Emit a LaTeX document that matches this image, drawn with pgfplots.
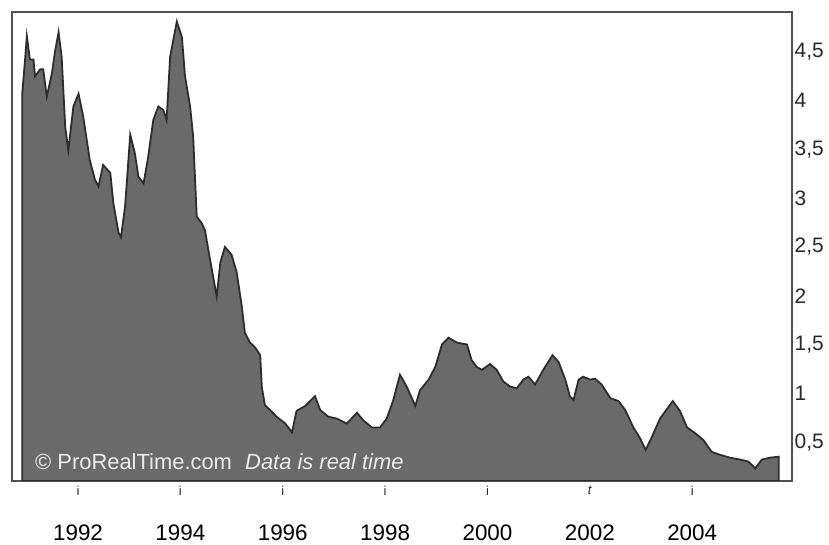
\documentclass[border=0pt]{standalone}
\usepackage{pgfplots}
\pgfplotsset{compat=1.18}
\usepackage{fontspec}
\setmainfont{Liberation Sans}
\definecolor{areafill}{RGB}{106,106,106}
\definecolor{areaedge}{RGB}{45,45,45}
\definecolor{framec}{RGB}{80,80,80}
\definecolor{labc}{RGB}{40,40,40}
\begin{document}
\begin{tikzpicture}[x=1bp,y=1bp]
\path[use as bounding box] (0,0) rectangle (829,545);
\begin{axis}[
  at={(12bp,64bp)}, anchor=south west,
  width=780bp, height=469bp, scale only axis,
  xmin=1990.71, xmax=2005.95, ymin=0.101, ymax=4.908,
  axis line style={draw=framec, line width=1.8bp},
  major tick length=0pt,
  ytick={0.5,1,1.5,2,2.5,3,3.5,4,4.5},
  yticklabel pos=right,
  yticklabel style={font=\fontsize{21}{25}\selectfont, text=labc, anchor=west, inner sep=0pt, xshift=2.5bp,
    /pgf/number format/.cd, use comma, assume math mode=true},
  xtick={1992,1994,1996,1998,2000,2002,2004},
  xticklabels={1992,1994,1996,1998,2000,2002,2004},
  xticklabel style={font=\fontsize{22.5}{27}\selectfont, text=black, anchor=north, inner sep=0pt},
  xticklabel shift=44bp,
  extra x ticks={1992,1994,1996,1998,2000,2002,2004},
  extra x tick labels={i,i,i,i,i,\textit{t},i},
  extra x tick style={xticklabel shift=5bp, xticklabel style={font=\fontsize{13}{15}\selectfont, text=labc}},
  clip=true,
]
\addplot[fill=areafill, draw=areaedge, line width=1.8bp, sharp plot] table {
x y
1990.91 4.07
1990.97 4.45
1991.00 4.66
1991.06 4.42
1991.13 4.42
1991.16 4.25
1991.26 4.32
1991.32 4.32
1991.39 4.04
1991.49 4.28
1991.55 4.50
1991.62 4.70
1991.68 4.45
1991.75 3.73
1991.81 3.49
1991.91 3.94
1992.01 4.07
1992.10 3.84
1992.23 3.39
1992.33 3.19
1992.40 3.12
1992.49 3.34
1992.63 3.26
1992.69 2.95
1992.79 2.65
1992.84 2.60
1992.92 2.92
1993.02 3.65
1993.11 3.46
1993.18 3.22
1993.28 3.15
1993.37 3.42
1993.47 3.80
1993.57 3.94
1993.67 3.90
1993.73 3.80
1993.80 4.45
1993.93 4.81
1994.03 4.65
1994.09 4.25
1994.19 3.94
1994.25 3.63
1994.29 3.15
1994.32 2.81
1994.42 2.74
1994.48 2.67
1994.58 2.37
1994.71 1.99
1994.78 2.34
1994.87 2.50
1995.00 2.42
1995.10 2.24
1995.20 1.89
1995.26 1.62
1995.36 1.52
1995.46 1.47
1995.56 1.39
1995.59 1.07
1995.65 0.88
1995.75 0.83
1995.88 0.76
1996.05 0.69
1996.18 0.60
1996.27 0.82
1996.44 0.87
1996.63 0.97
1996.73 0.83
1996.89 0.76
1997.06 0.74
1997.25 0.69
1997.45 0.80
1997.58 0.72
1997.74 0.65
1997.90 0.65
1998.03 0.74
1998.16 0.93
1998.29 1.19
1998.42 1.07
1998.59 0.87
1998.68 1.03
1998.85 1.14
1998.98 1.27
1999.11 1.50
1999.24 1.57
1999.40 1.52
1999.60 1.50
1999.69 1.34
1999.79 1.27
1999.89 1.24
2000.05 1.30
2000.18 1.24
2000.31 1.12
2000.44 1.07
2000.57 1.05
2000.70 1.14
2000.80 1.17
2000.93 1.09
2001.09 1.24
2001.27 1.39
2001.39 1.32
2001.52 1.14
2001.61 0.97
2001.68 0.93
2001.78 1.14
2001.87 1.17
2002.01 1.14
2002.10 1.15
2002.23 1.09
2002.40 0.95
2002.56 0.92
2002.69 0.83
2002.85 0.65
2002.98 0.54
2003.09 0.42
2003.21 0.55
2003.37 0.74
2003.62 0.92
2003.76 0.82
2003.90 0.65
2004.06 0.59
2004.22 0.52
2004.38 0.40
2004.54 0.37
2004.74 0.34
2004.94 0.32
2005.10 0.30
2005.23 0.23
2005.36 0.32
2005.52 0.34
2005.69 0.35
} \closedcycle;
\end{axis}
\node[anchor=base west, inner sep=0pt, text=black!8, font=\fontsize{22}{26}\selectfont] at (35,75) {© ProRealTime.com};
\node[anchor=base west, inner sep=0pt, text=black!8, font=\fontsize{22}{26}\selectfont\itshape] at (245,75) {Data is real time};
\end{tikzpicture}
\end{document}
